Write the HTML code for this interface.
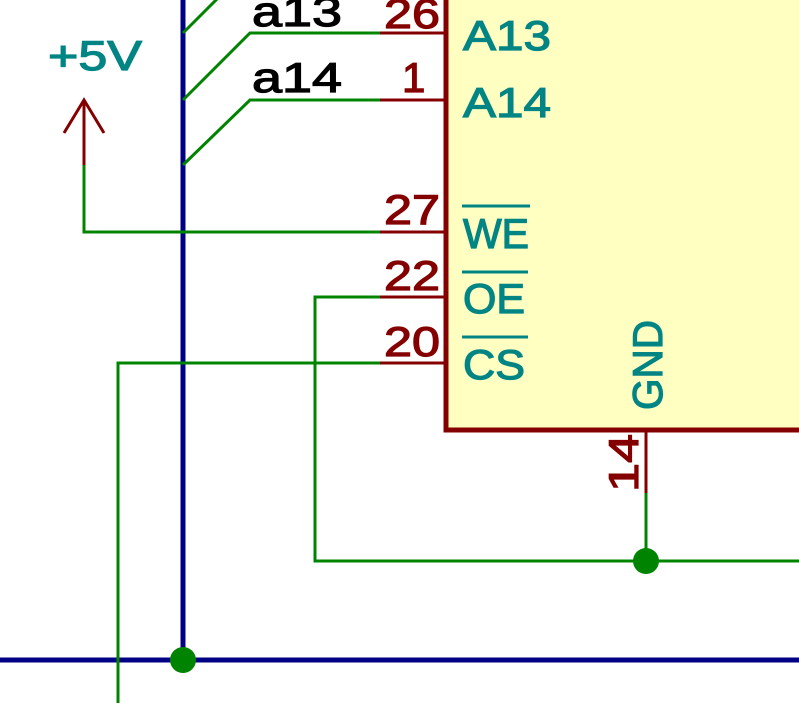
<!DOCTYPE html>
<html><head><meta charset="utf-8"><style>
html,body{margin:0;padding:0;background:#fff;}
svg{display:block;}
text{font-family:"Liberation Sans",sans-serif;}
</style></head><body>
<svg width="799" height="703" viewBox="0 0 799 703" xmlns="http://www.w3.org/2000/svg">
<rect x="0" y="0" width="799" height="703" fill="#fff"/>
<rect x="446" y="-10" width="370" height="440" fill="#FFFFC2" stroke="#840000" stroke-width="5"/>
<line x1="183" y1="0" x2="183" y2="660" stroke="#000084" stroke-width="5"/>
<line x1="0" y1="660" x2="799" y2="660" stroke="#000084" stroke-width="5"/>
<circle cx="183" cy="660" r="13" fill="#008400"/>
<g stroke="#008400" stroke-width="3" fill="none">
<polyline points="183,33 218,-2"/>
<polyline points="183,100 250,33 380,33"/>
<polyline points="183,165 250,100 380,100"/>
<polyline points="84,165 84,232 380,232"/>
<polyline points="380,297 315,297 315,561 799,561"/>
<polyline points="380,363 118,363 118,703"/>
<line x1="646" y1="493" x2="646" y2="561"/>
</g>
<circle cx="646" cy="561" r="13" fill="#008400"/>
<g stroke="#840000" stroke-width="3">
<line x1="380" y1="33" x2="446" y2="33"/>
<line x1="380" y1="100" x2="446" y2="100"/>
<line x1="380" y1="232" x2="446" y2="232"/>
<line x1="380" y1="297" x2="446" y2="297"/>
<line x1="380" y1="363" x2="446" y2="363"/>
<line x1="646" y1="430" x2="646" y2="493"/>
<polyline points="64,133 84,100 104,133" fill="none"/>
<line x1="84" y1="100" x2="84" y2="165"/>
</g>
<g fill="#840000" stroke="#840000" stroke-width="1.2" font-size="42">
<text x="384" y="28" textLength="56" lengthAdjust="spacingAndGlyphs">26</text>
<text x="402" y="92">1</text>
<text x="384" y="224" textLength="56" lengthAdjust="spacingAndGlyphs">27</text>
<text x="384" y="290" textLength="56" lengthAdjust="spacingAndGlyphs">22</text>
<text x="384" y="356" textLength="56" lengthAdjust="spacingAndGlyphs">20</text>
<text transform="translate(638,492) rotate(-90)" textLength="58" lengthAdjust="spacingAndGlyphs">14</text>
</g>
<g fill="#008484" stroke="#008484" stroke-width="1.2" font-size="42">
<text x="463" y="50" textLength="88" lengthAdjust="spacingAndGlyphs">A13</text>
<text x="463" y="117" textLength="88" lengthAdjust="spacingAndGlyphs">A14</text>
<text x="463" y="248" textLength="66" lengthAdjust="spacingAndGlyphs">WE</text>
<text x="463" y="313" textLength="62" lengthAdjust="spacingAndGlyphs">OE</text>
<text x="463" y="379" textLength="62" lengthAdjust="spacingAndGlyphs">CS</text>
<text transform="translate(662,410) rotate(-90)" textLength="90" lengthAdjust="spacingAndGlyphs">GND</text>
<text x="48" y="70" textLength="94" lengthAdjust="spacingAndGlyphs">+5V</text>
</g>
<g stroke="#008484" stroke-width="3">
<line x1="462" y1="206" x2="530" y2="206"/>
<line x1="462" y1="272" x2="528" y2="272"/>
<line x1="462" y1="337" x2="528" y2="337"/>
</g>
<g fill="#000" stroke="#000" stroke-width="1.2" font-size="42">
<text x="252" y="26" textLength="90" lengthAdjust="spacingAndGlyphs">a13</text>
<text x="252" y="92" textLength="90" lengthAdjust="spacingAndGlyphs">a14</text>
</g>
</svg>
</body></html>
